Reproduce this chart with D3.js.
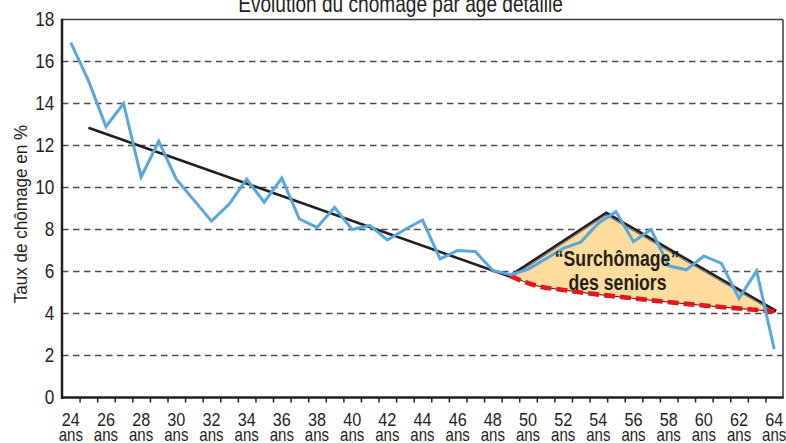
<!DOCTYPE html>
<html><head><meta charset="utf-8">
<script src="https://cdn.jsdelivr.net/npm/d3@7"></script>
<style>
html,body{margin:0;padding:0;background:#fff;}
svg{display:block;}
text{font-family:"Liberation Sans Narrow","Arial Narrow","Liberation Sans",Arial,sans-serif;fill:#231f20;}
</style></head>
<body>
<svg id="chart" width="786" height="443"></svg>
<script>
// ---- data ----
const title = "Évolution du chômage par âge détaillé";
const yTitle = "Taux de chômage en %";
const ages = d3.range(24, 65);
const rates = [16.9, 15.1, 12.9, 14.0, 10.5, 12.2, 10.4, 9.4, 8.4, 9.2,
               10.4, 9.3, 10.45, 8.5, 8.1, 9.05, 8.0, 8.2, 7.5, 8.0,
               8.45, 6.6, 7.0, 6.95, 6.05, 5.85, 6.1, 6.6, 7.1, 7.4,
               8.3, 8.85, 7.42, 8.0, 6.27, 6.08, 6.74, 6.39, 4.72, 6.03, 2.3];
const trendAges = [25, 49];
const trendValues = [12.85, 5.75];
const humpAges = [49, 54.45, 64.1];
const humpValues = [5.78, 8.77, 4.1];
const baseAges = [49, 50.5, 52, 56, 60, 64.1];
const baseValues = [5.78, 5.32, 5.12, 4.72, 4.38, 4.1];
const yTicks = [0, 2, 4, 6, 8, 10, 12, 14, 16, 18];
const xLabelAges = d3.range(24, 65, 2);
const unitLabel = "ans";
const annotation = ["\u201CSurchômage\u201D", "des seniors"];

// ---- layout ----
const svg = d3.select("#chart");
const L = 62, R = 783, T = 19.5, B = 397.5;
const x = d3.scaleLinear().domain([23.5, 64.5]).range([L, R]);
const y = d3.scaleLinear().domain([0, 18]).range([B, T]);

function ctext(parent, tx, ty, str, size, sx, anchor, weight) {
  return parent.append("text")
    .attr("transform", `translate(${tx},${ty}) scale(${sx},1)`)
    .attr("text-anchor", anchor || "middle")
    .attr("font-size", size)
    .attr("font-weight", weight || "normal")
    .text(str);
}

// title (cut off at top as in the original)
ctext(svg, 400.5, 12, title, 23, 0.83, "middle");

// gridlines
svg.append("g").selectAll("line").data(yTicks.filter(d => d > 0 && d < 18)).join("line")
  .attr("x1", L).attr("x2", R).attr("y1", d => y(d)).attr("y2", d => y(d))
  .attr("stroke", "#4d4d4d").attr("stroke-width", 1.3).attr("stroke-dasharray", "6.5,4.5");

// y axis labels
const yAxis = svg.append("g").attr("transform", `translate(${L},0)`)
  .call(d3.axisLeft(y).tickValues(yTicks).tickSize(0).tickPadding(9).tickFormat(d3.format("d")));
yAxis.select(".domain").remove();
yAxis.selectAll("text").attr("font-size", 20).attr("fill", "#231f20")
  .attr("transform", "scale(0.86,1)");

// x axis (category boundaries as ticks)
const xAxis = svg.append("g").attr("transform", `translate(0,${B})`)
  .call(d3.axisBottom(x).tickValues(d3.range(24.5, 64.5, 1)).tickSize(5).tickFormat(""));
xAxis.select(".domain").remove();
xAxis.selectAll("line").attr("stroke", "#231f20").attr("stroke-width", 1.5);

const xl = svg.append("g");
xLabelAges.forEach(a => {
  ctext(xl, x(a), 426, String(a), 18, 0.9, "middle");
  ctext(xl, x(a), 440.5, unitLabel, 17.5, 0.86, "middle");
});

// frame
svg.append("line").attr("x1", L).attr("x2", R).attr("y1", T).attr("y2", T).attr("stroke", "#3a3a3a").attr("stroke-width", 1.5);
svg.append("line").attr("x1", R).attr("x2", R).attr("y1", T).attr("y2", B).attr("stroke", "#3a3a3a").attr("stroke-width", 1.5);
svg.append("line").attr("x1", L).attr("x2", L).attr("y1", T - 0.75).attr("y2", B + 1.5).attr("stroke", "#231f20").attr("stroke-width", 2.5);
svg.append("line").attr("x1", L).attr("x2", R + 0.75).attr("y1", B).attr("y2", B).attr("stroke", "#231f20").attr("stroke-width", 2.5);

// y title
svg.append("text").attr("transform", `translate(26.5,214) rotate(-90) scale(0.9,1)`).attr("text-anchor", "middle")
  .attr("font-size", 19).text(yTitle);

// surchômage area
const hump = humpAges.map((a, i) => [x(a), y(humpValues[i])]);
const base = baseAges.map((a, i) => [x(a), y(baseValues[i])]);
const lineCurve = d3.line().curve(d3.curveMonotoneX);
const areaPath = "M" + hump.map(p => p.join(",")).join("L") +
  lineCurve(base.slice().reverse()).replace(/^M/, "L") + "Z";
svg.append("path").attr("d", areaPath).attr("fill", "#fddc9e").attr("stroke", "none");

// trend line
const line = d3.line();
svg.append("path").attr("d", line(trendAges.map((a, i) => [x(a), y(trendValues[i])])))
  .attr("fill", "none").attr("stroke", "#231f20").attr("stroke-width", 2.6);

// hump edges (double line look)
svg.append("path").attr("d", line(hump)).attr("fill", "none").attr("stroke", "#231f20")
  .attr("stroke-width", 3.6).attr("stroke-linejoin", "miter");
svg.append("path").attr("d", line(hump)).attr("fill", "none").attr("stroke", "#d4d4d4")
  .attr("stroke-width", 0.7).attr("transform", "translate(0,1.3)");

// thin base outline + red dashes
svg.append("path").attr("d", lineCurve(base)).attr("fill", "none").attr("stroke", "#231f20").attr("stroke-width", 1);
svg.append("path").attr("d", lineCurve(base)).attr("fill", "none").attr("stroke", "#e8141c")
  .attr("stroke-width", 4.6).attr("stroke-dasharray", "11,5");

// blue data line
svg.append("path").attr("d", d3.line().x((d, i) => x(ages[i])).y(d => y(d))(rates))
  .attr("fill", "none").attr("stroke", "#58a8dd").attr("stroke-width", 3).attr("stroke-linejoin", "miter");

// annotation
ctext(svg, 617, 266, annotation[0], 21.5, 0.82, "middle", "bold");
ctext(svg, 617.5, 289.5, annotation[1], 21.5, 0.82, "middle", "bold");
</script>
</body></html>
